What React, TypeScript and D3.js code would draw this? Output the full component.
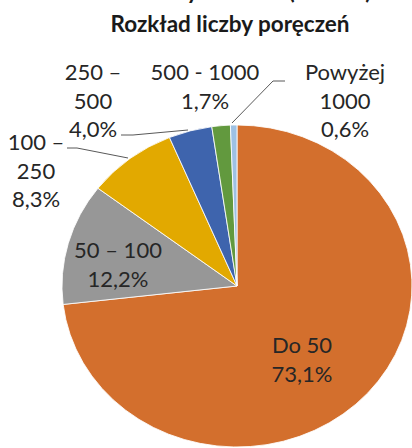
import React from "react";
import * as d3 from "d3";

const categories = ["Do 50", "50 – 100", "100 – 250", "250 – 500", "500 - 1000", "Powyżej 1000"];
const shares = [73.1, 12.2, 8.3, 4.0, 1.7, 0.6];
const percentLabels = ["73,1%", "12,2%", "8,3%", "4,0%", "1,7%", "0,6%"];
const labelLines = [["Do 50"], ["50 – 100"], ["100 –", "250"], ["250 –", "500"], ["500 - 1000"], ["Powyżej", "1000"]];
const colors = ["#D36F2D", "#979797", "#E2A900", "#3E64AD", "#62993E", "#9EC1E3"];

const title = "Rozkład liczby poręczeń";
const cutTitle = "Umowy zawarte (2014 r.)";

// layout (label anchor x and first baseline y)
const labelPos = [
  { x: 302, y: 353 },
  { x: 118, y: 258 },
  { x: 36, y: 150 },
  { x: 93, y: 80 },
  { x: 205, y: 80 },
  { x: 345, y: 80 },
];
const leaders: ([number, number][] | null)[] = [
  null,
  null,
  [[67, 148], [77, 148], [128, 158]],
  [[121, 135], [133, 135], [188, 130]],
  null,
  [[285, 81], [273, 81], [232, 123]],
];

const W = 412, H = 448;
const cx = 237, cy = 286, rx = 175, ry = 161;
const lineH = 28.5;
const font = "Lato, 'Open Sans', sans-serif";

export default function App() {
  const data = categories.map((c, i) => ({ c, v: shares[i], i }));
  const pie = d3.pie<any>().value((d) => d.v).sort(null).startAngle(0).endAngle(2 * Math.PI);
  const arcs = pie(data);
  const arc = d3.arc<any>().innerRadius(0).outerRadius(ry);
  const line = d3.line();
  return (
    <svg width={W} height={H} style={{ position: "fixed", left: 0, top: 0, background: "#fff" }}>
      <rect width={W} height={H} fill="#fff" />
      <text x={246} y={-1} textAnchor="middle" fontFamily={font} fontWeight={700} fontSize={22.5} fill="#1a1a1a">
        {cutTitle}
      </text>
      <text x={230} y={32} textAnchor="middle" fontFamily={font} fontWeight={700} fontSize={22.5} fill="#1a1a1a">
        {title}
      </text>
      <g transform={`translate(${cx},${cy}) scale(${rx / ry},1)`}>
        {arcs.map((a, i) => (
          <path key={i} d={arc(a) as string} fill={colors[i]} stroke="#fff" strokeWidth={0.8} />
        ))}
      </g>
      {leaders.map((pts, i) =>
        pts ? <path key={i} d={line(pts) as string} fill="none" stroke="#595959" strokeWidth={1} /> : null
      )}
      {labelLines.map((lines, i) => (
        <text key={i} textAnchor="middle" fontFamily={font} fontSize={22} fill="#262626">
          {[...lines, percentLabels[i]].map((t, j) => (
            <tspan key={j} x={labelPos[i].x} y={labelPos[i].y + j * lineH}>
              {t}
            </tspan>
          ))}
        </text>
      ))}
    </svg>
  );
}
